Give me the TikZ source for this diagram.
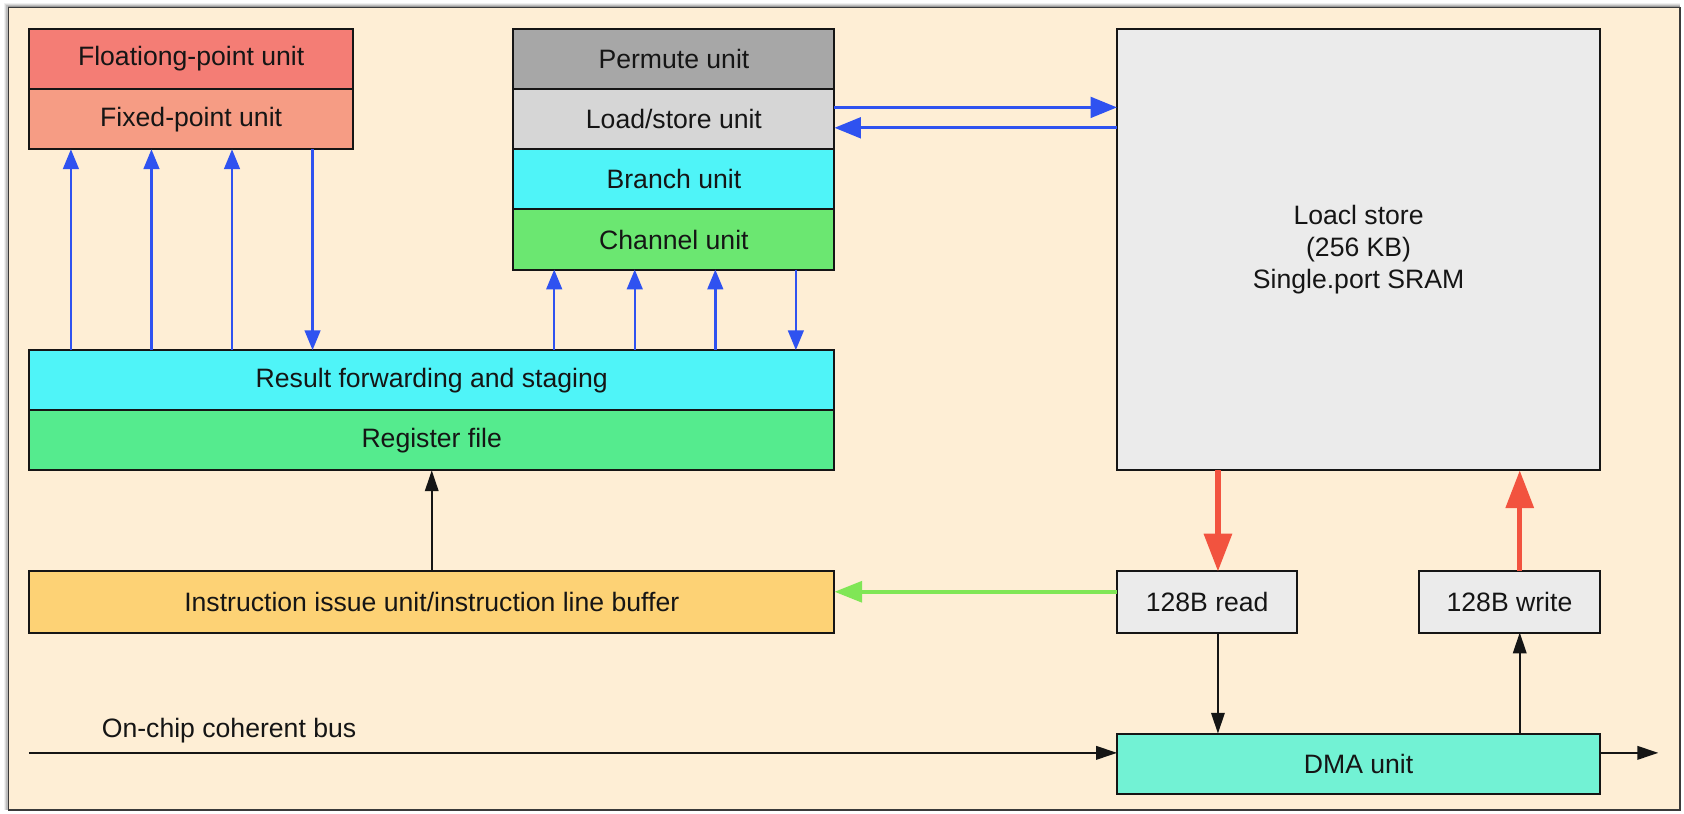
\documentclass[tikz,border=0pt]{standalone}
\usepackage{fontspec}
\setmainfont{Liberation Sans}
\usetikzlibrary{calc,arrows.meta}

\definecolor{paper}{HTML}{FEEED5}
\definecolor{framec}{HTML}{3A3A3A}
\definecolor{fpc}{HTML}{F47D75}
\definecolor{fxc}{HTML}{F69C84}
\definecolor{permc}{HTML}{A7A7A7}
\definecolor{lsc}{HTML}{D6D6D6}
\definecolor{cyanc}{HTML}{4FF4F8}
\definecolor{chc}{HTML}{6BE771}
\definecolor{regc}{HTML}{55EB8E}
\definecolor{issc}{HTML}{FDD275}
\definecolor{memc}{HTML}{EBEBEB}
\definecolor{dmac}{HTML}{72F2D4}
\definecolor{bluec}{HTML}{2F52F0}
\definecolor{redc}{HTML}{F2533F}
\definecolor{greenc}{HTML}{80E656}
\definecolor{inkc}{HTML}{151515}

\tikzset{
  unitbox/.style={draw=inkc, line width=1.05pt, inner sep=0pt, outer sep=0pt,
    text=inkc, font=\fontsize{14.1pt}{16.8pt}\selectfont, align=center},
  thinblue/.style={draw=bluec, line width=1.3pt,
    -{Triangle[length=10.5pt, width=8.3pt]}, color=bluec},
  thickblue/.style={draw=bluec, line width=1.75pt,
    -{Triangle[length=14pt, width=10.9pt]}, color=bluec},
  redflow/.style={draw=redc, line width=2.8pt,
    -{Triangle[length=20pt, width=14.5pt]}, color=redc},
  greenflow/.style={draw=greenc, line width=2.1pt,
    -{Triangle[length=14.7pt, width=11pt]}, color=greenc},
  blackflow/.style={draw=inkc, line width=0.8pt,
    -{Triangle[length=11pt, width=7.2pt]}, color=inkc},
}

\begin{document}
\begin{tikzpicture}[x=0.02cm, y=-0.02cm]
  % canvas and framed panel
  \useasboundingbox (0,0) rectangle (1568,757);
  \fill[white] (0,0) rectangle (1568,757);
  \foreach \o/\a in {4/0.06,3/0.09,2/0.13,1/0.18}{
    \fill[black, opacity=\a] (8-\o,7-\o) rectangle (1564,754);
  }
  \draw[framec, line width=0.9pt, fill=paper] (8,7) rectangle (1564,754);

  % arithmetic units
  \node[unitbox, fill=fpc, minimum width=6.04cm, minimum height=1.12cm] (fp) at (178,55) {Floationg-point unit};
  \node[unitbox, fill=fxc, minimum width=6.04cm, minimum height=1.12cm] (fx) at (178,111) {Fixed-point unit};

  % permute / load-store / branch / channel stack
  \node[unitbox, fill=permc, minimum width=5.98cm, minimum height=1.12cm] (perm) at (627.5,55) {Permute unit};
  \node[unitbox, fill=lsc, minimum width=5.98cm, minimum height=1.12cm] (ls) at (627.5,111) {Load/store unit};
  \node[unitbox, fill=cyanc, minimum width=5.98cm, minimum height=1.12cm] (br) at (627.5,167) {Branch unit};
  \node[unitbox, fill=chc, minimum width=5.98cm, minimum height=1.12cm] (ch) at (627.5,223) {Channel unit};

  % local store
  \node[unitbox, fill=memc, minimum width=9.0cm, minimum height=8.22cm] (mem) at (1265,232.5)
    {Loacl store\\(256 KB)\\Single.port SRAM};

  % register path
  \node[unitbox, fill=cyanc, minimum width=15.0cm, minimum height=1.12cm] (rfw) at (402,354) {Result forwarding and staging};
  \node[unitbox, fill=regc, minimum width=15.0cm, minimum height=1.12cm] (reg) at (402,410) {Register file};
  \node[unitbox, fill=issc, minimum width=15.0cm, minimum height=1.14cm] (iss) at (402,560.5) {Instruction issue unit/instruction line buffer};

  % memory ports and DMA
  \node[unitbox, fill=memc, minimum width=3.36cm, minimum height=1.14cm] (rd) at (1124,560.5) {128B read};
  \node[unitbox, fill=memc, minimum width=3.38cm, minimum height=1.14cm] (wr) at (1405.5,560.5) {128B write};
  \node[unitbox, fill=dmac, minimum width=9.0cm, minimum height=1.12cm] (dma) at (1265,711) {DMA unit};

  % bus label and end points
  \node[anchor=base west, inner sep=0pt, text=inkc, font=\fontsize{14.1pt}{16.8pt}\selectfont] (buslbl) at (94.5,687) {On-chip coherent bus};
  \coordinate (busin) at (27,701);
  \coordinate (busout) at (1544,701);

  % tap points along the unit edges
  \path (fx.south west) ++(39,0) coordinate (f1) ++(75,0) coordinate (f2) ++(75,0) coordinate (f3) ++(75,0) coordinate (f4);
  \path (ch.south west) ++(38,0) coordinate (c1) ++(75,0) coordinate (c2) ++(75,0) coordinate (c3) ++(75,0) coordinate (c4);
  \path (ls.east) ++(0,-11) coordinate (lsa);
  \path (ls.east) ++(0,8) coordinate (lsb);
  \path (mem.south west) ++(94,0) coordinate (mr);
  \path (mem.south west) ++(375,0) coordinate (mw);
  \path (rd.west) ++(0,-9.5) coordinate (rg);

  % result forwarding <-> arithmetic units
  \draw[thinblue] (rfw.north -| f1) -- (f1);
  \draw[thinblue] (rfw.north -| f2) -- (f2);
  \draw[thinblue] (rfw.north -| f3) -- (f3);
  \draw[thinblue] (f4) -- (rfw.north -| f4);

  % result forwarding <-> channel stack
  \draw[thinblue] (rfw.north -| c1) -- (c1);
  \draw[thinblue] (rfw.north -| c2) -- (c2);
  \draw[thinblue] (rfw.north -| c3) -- (c3);
  \draw[thinblue] (c4) -- (rfw.north -| c4);

  % load/store <-> local store
  \draw[thickblue] (lsa) -- (mem.west |- lsa);
  \draw[thickblue] (mem.west |- lsb) -- (lsb);

  % local store <-> ports
  \draw[redflow] (mr) -- (rd.north -| mr);
  \draw[redflow] (wr.north -| mw) -- (mw);

  % instruction fetch path
  \draw[greenflow] (rg) -- (iss.east |- rg);
  \draw[blackflow] (iss.north) -- (reg.south);

  % DMA traffic
  \draw[blackflow] (rd.south -| mr) -- (dma.north -| mr);
  \draw[blackflow] (dma.north -| mw) -- (wr.south -| mw);
  \draw[blackflow] (busin) -- (dma.west |- busin);
  \draw[blackflow] (dma.east |- busout) -- (busout);
\end{tikzpicture}
\end{document}
